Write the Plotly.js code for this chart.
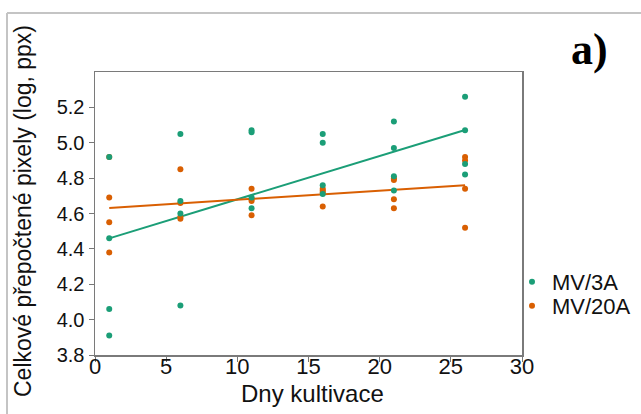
<!DOCTYPE html>
<html>
<head>
<meta charset="utf-8">
<script src="https://cdn.plot.ly/plotly-3.0.1.min.js"></script>
<style>html,body{margin:0;padding:0;background:#fff;}#chart{width:641px;height:414px;}</style>
</head>
<body>
<div id="chart"></div>
<script>
// Days of cultivation for each measured point
const daysMV3A  = [1,1,1,1, 6,6,6,6, 11,11,11,11, 16,16,16,16, 21,21,21,21, 26,26,26,26];
const valsMV3A  = [4.92,4.46,4.06,3.91, 5.05,4.67,4.60,4.08, 5.07,5.06,4.69,4.63, 5.05,5.00,4.76,4.71, 5.12,4.97,4.81,4.73, 5.26,5.07,4.88,4.82];
const daysMV20A = [1,1,1,1, 6,6,6,6, 11,11,11,11, 16,16,16,16, 21,21,21,21, 26,26,26,26];
const valsMV20A = [4.92,4.69,4.55,4.38, 4.85,4.66,4.58,4.57, 4.74,4.68,4.67,4.59, 4.74,4.73,4.72,4.64, 4.80,4.79,4.68,4.63, 4.92,4.90,4.74,4.52];
const seriesNames = ['MV/3A','MV/20A'];
const xTicks = [0,5,10,15,20,25,30];
const yTicks = [3.8,4.0,4.2,4.4,4.6,4.8,5.0,5.2];
const xTitle = 'Dny kultivace';
const yTitle = 'Celkové přepočtené pixely (log, ppx)';
const panelLabel = 'a)';

const colA = '#1b9e77', colB = '#d95f02';

function fit(xs, ys){
  const n = xs.length;
  const mx = xs.reduce((a,b)=>a+b,0)/n, my = ys.reduce((a,b)=>a+b,0)/n;
  let sxy=0, sxx=0;
  for(let i=0;i<n;i++){sxy+=(xs[i]-mx)*(ys[i]-my); sxx+=(xs[i]-mx)**2;}
  const b = sxy/sxx, a = my-b*mx;
  const x0 = Math.min(...xs), x1 = Math.max(...xs);
  return {x:[x0,x1], y:[a+b*x0, a+b*x1]};
}
const fA = fit(daysMV3A, valsMV3A), fB = fit(daysMV20A, valsMV20A);

const font = 'Liberation Sans, Arial, sans-serif';
const traces = [
  {x:fA.x, y:fA.y, mode:'lines', line:{color:colA, width:2}, showlegend:false, hoverinfo:'skip'},
  {x:fB.x, y:fB.y, mode:'lines', line:{color:colB, width:2}, showlegend:false, hoverinfo:'skip'},
  {x:daysMV20A, y:valsMV20A, mode:'markers', name:seriesNames[1], marker:{color:colB, size:6}, legend:'legend2'},
  {x:daysMV3A, y:valsMV3A, mode:'markers', name:seriesNames[0], marker:{color:colA, size:6}, legend:'legend'}
];

const px = v => (v-95)/427, py = v => (355-v)/283;
const legBase = {xanchor:'left', yanchor:'middle', bgcolor:'rgba(0,0,0,0)', font:{size:22, color:'#111'},
  itemwidth:30, borderwidth:0};
const layout = {
  width:641, height:414,
  margin:{l:95, r:119, t:72, b:59, autoexpand:false},
  paper_bgcolor:'#fff', plot_bgcolor:'#fff',
  font:{family:font, color:'#111'},
  xaxis:{range:[0,30], tickvals:xTicks, ticktext:xTicks.map(String), ticks:'outside', ticklen:5, tickcolor:'#777',
    showline:true, linecolor:'#7a7a7a', linewidth:1.5, mirror:true, showgrid:false, zeroline:false,
    ticklabelstandoff:-14, tickfont:{size:22, color:'#111'}},
  yaxis:{range:[3.8,5.4], tickvals:yTicks, ticktext:yTicks.map(v=>v.toFixed(1)), ticks:'outside', ticklen:5, tickcolor:'#777',
    showline:true, linecolor:'#7a7a7a', linewidth:1.5, mirror:true, showgrid:false, zeroline:false,
    tickfont:{size:20, color:'#111'}},
  legend:Object.assign({}, legBase, {x:px(512), y:py(282)}),
  legend2:Object.assign({}, legBase, {x:px(512), y:py(306)}),
  annotations:[
    {text:'<b>'+panelLabel+'</b>', xref:'paper', yref:'paper', x:px(589), y:py(49), xanchor:'center', yanchor:'middle', showarrow:false,
      font:{family:'Liberation Serif, Times New Roman, serif', size:44, color:'#000'}},
    {text:xTitle, xref:'paper', yref:'paper', x:px(312), y:py(393), xanchor:'center', yanchor:'middle', showarrow:false,
      font:{size:24, color:'#111'}},
    {text:yTitle, xref:'paper', yref:'paper', x:px(23), y:py(211), xanchor:'center', yanchor:'middle', showarrow:false, textangle:-90,
      font:{size:23, color:'#111'}}
  ],
  shapes:[
    {type:'line', xref:'paper', yref:'paper', x0:px(7), x1:px(645), y0:py(13), y1:py(13), line:{color:'#c4c4c4', width:2}},
    {type:'line', xref:'paper', yref:'paper', x0:px(7), x1:px(7), y0:py(13), y1:py(420), line:{color:'#c4c4c4', width:2}}
  ],
  showlegend:true
};
Plotly.newPlot('chart', traces, layout, {displayModeBar:false, staticPlot:true});
</script>
</body>
</html>
